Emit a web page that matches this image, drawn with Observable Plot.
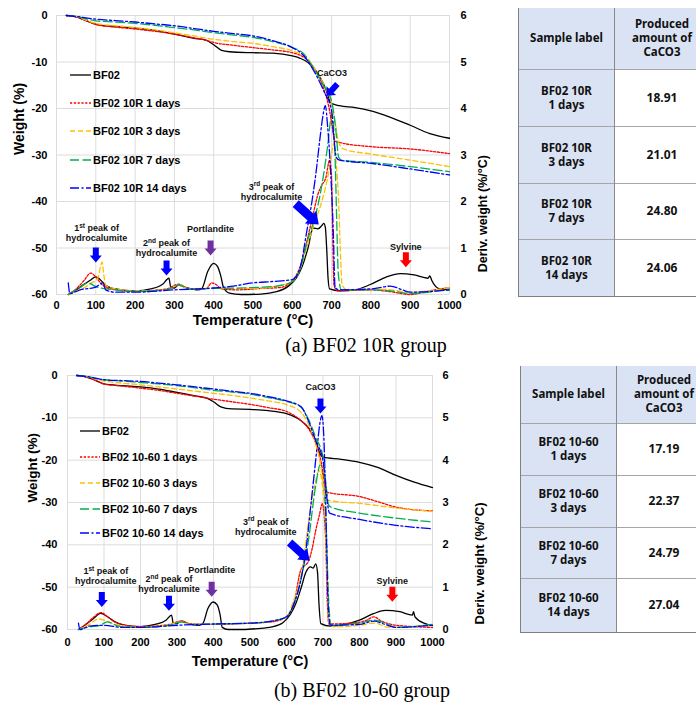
<!DOCTYPE html>
<html><head><meta charset="utf-8">
<script src="https://cdn.jsdelivr.net/npm/d3@7"></script>
<script src="https://cdn.jsdelivr.net/npm/@observablehq/plot@0.6"></script>
<style>
html,body{margin:0;padding:0;width:696px;height:702px;overflow:hidden;background:#fff}
body{position:relative;font-family:"Liberation Sans",Arial,sans-serif}
.abs{position:absolute}
.cap{position:absolute;width:320px;text-align:center;font-family:"Liberation Serif","Times New Roman",serif;font-size:20px;line-height:24px;color:#000;white-space:nowrap}
table.tbl{position:absolute;border-collapse:collapse;table-layout:fixed;width:190px;font-family:"Noto Sans","Liberation Sans",sans-serif;font-weight:bold;font-size:11.5px;line-height:14px;color:#111}
table.tbl td{padding:0;text-align:center;vertical-align:middle;border-top:1px solid #a6a6a6;white-space:nowrap}
table.tbl td.c1{width:95px;background:#dae3f3;border-left:1px solid #7f7f7f;border-right:1px solid #8a8a8a}
table.tbl td.c2{width:94px;background:#fff;font-size:12px}
table.tbl td.hd{background:#dae3f3;border-top:none}
table.tbl tr.last td{border-bottom:1px solid #7f7f7f}
</style></head><body>
<div id="pa" class="abs" style="left:0;top:0"></div>
<div id="pb" class="abs" style="left:0;top:360px"></div>
<div id="ta"></div>
<div id="tb"></div>
<div class="cap" style="left:206px;top:333px">(a) BF02 10R group</div>
<div class="cap" style="left:202px;top:678px">(b) BF02 10-60 group</div>
<script>
// ---------------- DATA ----------------
const xTicks = [0,100,200,300,400,500,600,700,800,900,1000];
const yTicks = [-60,-50,-40,-30,-20,-10,0];

const seriesA = ["BF02","BF02 10R 1 days","BF02 10R 3 days","BF02 10R 7 days","BF02 10R 14 days"];
const seriesB = ["BF02","BF02 10-60 1 days","BF02 10-60 3 days","BF02 10-60 7 days","BF02 10-60 14 days"];

// Panel (a) weight (%) vs temperature
const a_wt_BF02 = [[25,0],[50,-0.3],[75,-1.1],[100,-1.9],[150,-2.4],[200,-2.7],[250,-3.2],[300,-4.0],[350,-4.9],[380,-5.3],[400,-6.3],[420,-7.5],[440,-7.8],[500,-8.0],[550,-8.1],[600,-8.7],[620,-9.2],[640,-10.1],[660,-11.9],[680,-14.8],[690,-16.9],[695,-18.3],[700,-18.9],[720,-19.4],[760,-19.8],[800,-20.5],[850,-21.9],[900,-23.6],[950,-25.4],[1000,-26.4]];
const a_wt_1d = [[25,0],[50,-0.3],[75,-1.1],[100,-1.9],[150,-2.5],[200,-2.9],[250,-3.4],[300,-4.0],[350,-4.8],[380,-5.3],[400,-5.8],[450,-6.4],[500,-6.9],[550,-7.4],[600,-8.0],[640,-9.7],[660,-11.9],[680,-15.8],[695,-20.5],[702,-24.1],[708,-27.0],[720,-27.3],[800,-28.2],[900,-28.7],[1000,-29.7]];
const a_wt_3d = [[25,0],[50,-0.2],[75,-1.0],[100,-1.7],[150,-2.2],[200,-2.6],[250,-3.1],[300,-3.7],[350,-4.4],[400,-5.1],[450,-5.6],[500,-6.0],[550,-6.7],[600,-7.6],[640,-9.4],[660,-11.9],[680,-14.8],[700,-19.1],[710,-23.4],[717,-27.0],[722,-28.0],[730,-28.7],[800,-29.8],[900,-31.1],[1000,-32.5]];
const a_wt_7d = [[25,0],[50,-0.2],[75,-0.7],[100,-1.15],[150,-1.4],[200,-1.7],[250,-2.1],[300,-2.6],[350,-3.1],[400,-3.7],[450,-4.2],[500,-4.7],[550,-5.6],[600,-6.9],[630,-8.3],[650,-10.8],[680,-15.1],[700,-18.4],[710,-24.0],[718,-30.5],[725,-31.1],[800,-31.6],[900,-32.5],[1000,-33.6]];
const a_wt_14d = [[25,0],[50,-0.2],[75,-0.5],[100,-0.8],[150,-1.1],[200,-1.4],[250,-1.8],[300,-2.2],[350,-2.8],[400,-3.4],[450,-3.9],[500,-4.4],[550,-5.4],[600,-6.9],[630,-8.7],[650,-11.2],[680,-16.2],[700,-20.5],[705,-25.5],[712,-30.5],[720,-31.1],[800,-31.8],[900,-33.0],[1000,-34.3]];

// Panel (a) derivative weight (%/°C)
const a_dtg_BF02 = [[30,0],[50,0.1],[70,0.22],[85,0.3],[100,0.38],[110,0.33],[125,0.2],[150,0.12],[200,0.08],[240,0.12],[270,0.22],[286,0.35],[291,0.15],[300,0.14],[310,0.2],[330,0.15],[360,0.1],[370,0.13],[385,0.5],[400,0.67],[410,0.6],[418,0.4],[425,0.15],[440,0.03],[470,0.0],[520,0.01],[560,0.06],[590,0.18],[610,0.35],[625,0.6],[640,1.0],[653,1.43],[665,1.41],[675,1.48],[680,1.53],[684,1.45],[688,0.9],[691,0.35],[695,0.12],[720,0.08],[760,0.1],[800,0.22],[840,0.38],[875,0.45],[910,0.42],[945,0.35],[950,0.4],[955,0.3],[975,0.12],[1000,0.1]];
const a_dtg_1d = [[30,0],[50,0.12],[70,0.3],[87,0.46],[100,0.38],[115,0.22],[140,0.12],[200,0.07],[280,0.12],[310,0.22],[340,0.12],[380,0.12],[395,0.25],[405,0.22],[420,0.12],[460,0.1],[520,0.13],[570,0.15],[600,0.3],[620,0.6],[640,1.25],[655,1.8],[665,2.15],[675,2.35],[685,2.5],[695,2.89],[700,2.5],[703,1.2],[706,0.2],[715,0.08],[800,0.1],[850,0.06],[900,0.0],[950,0.08],[1000,0.15]];
const a_dtg_3d = [[30,0],[60,0.1],[90,0.25],[105,0.35],[112,0.6],[116,0.7],[120,0.45],[125,0.2],[150,0.12],[200,0.08],[280,0.1],[310,0.2],[340,0.12],[400,0.14],[500,0.13],[560,0.18],[600,0.28],[620,0.55],[640,1.1],[655,1.5],[675,2.0],[692,2.6],[700,3.0],[705,3.24],[712,2.8],[718,2.0],[722,1.0],[727,0.2],[740,0.1],[800,0.12],[850,0.1],[900,0.05],[1000,0.15]];
const a_dtg_7d = [[30,0],[60,0.15],[80,0.25],[100,0.17],[150,0.1],[200,0.07],[280,0.1],[310,0.2],[340,0.12],[400,0.13],[500,0.15],[560,0.18],[600,0.28],[620,0.55],[640,1.2],[660,1.73],[680,2.6],[690,3.2],[701,3.88],[709,2.9],[713,1.6],[717,0.45],[725,0.1],[800,0.1],[850,0.08],[900,0.02],[1000,0.12]];
const a_dtg_14d = [[30,0.25],[34,0.02],[60,0.1],[100,0.16],[118,0.25],[125,0.1],[150,0.05],[200,0.05],[300,0.1],[400,0.14],[450,0.18],[500,0.25],[550,0.28],[600,0.32],[620,0.58],[637,1.37],[650,2.0],[660,2.6],[671,3.4],[678,3.85],[684,4.06],[690,3.6],[696,2.87],[704,1.43],[709,0.15],[720,0.1],[800,0.12],[850,0.18],[880,0.1],[900,0.05],[1000,0.1]];

// Panel (b) weight (%)
const b_wt_BF02 = [[25,0],[50,-0.3],[75,-1.1],[100,-2.0],[150,-2.4],[200,-2.7],[250,-3.2],[300,-4.0],[350,-4.8],[380,-5.3],[400,-6.2],[420,-7.4],[450,-7.9],[500,-8.0],[550,-8.3],[600,-9.0],[640,-10.7],[660,-12.3],[680,-15.4],[690,-18.1],[700,-19.3],[750,-19.8],[800,-20.5],[850,-21.7],[900,-23.6],[950,-25.2],[1000,-26.5]];
const b_wt_1d = [[25,0],[50,-0.3],[75,-1.1],[100,-2.0],[150,-2.5],[200,-3.0],[250,-3.5],[300,-4.2],[350,-4.9],[400,-5.6],[450,-6.2],[500,-6.8],[550,-7.6],[600,-8.5],[640,-10.7],[660,-12.5],[680,-16.0],[695,-20.5],[702,-24.0],[707,-26.8],[712,-27.6],[800,-28.6],[850,-29.8],[900,-31.1],[1000,-32.0]];
const b_wt_3d = [[25,0],[50,-0.2],[75,-0.8],[100,-1.3],[150,-1.8],[200,-2.2],[250,-2.7],[300,-3.2],[350,-3.7],[400,-4.2],[450,-4.7],[500,-5.3],[550,-6.0],[600,-6.9],[640,-8.7],[660,-11.5],[680,-16.2],[695,-22.0],[702,-26.5],[708,-29.3],[720,-29.6],[800,-30.2],[900,-31.3],[1000,-32.1]];
const b_wt_7d = [[25,0],[50,-0.2],[75,-0.6],[100,-1.0],[150,-1.3],[200,-1.65],[250,-2.0],[300,-2.4],[350,-2.9],[400,-3.5],[450,-3.9],[500,-4.4],[550,-5.2],[600,-6.1],[640,-7.5],[660,-10.3],[680,-14.6],[700,-19.3],[710,-27.2],[715,-30.5],[722,-31.1],[800,-32.5],[900,-33.7],[1000,-34.6]];
const b_wt_14d = [[25,0],[50,-0.2],[75,-0.6],[100,-1.0],[150,-1.2],[200,-1.4],[250,-1.8],[300,-2.2],[350,-2.7],[400,-3.2],[450,-3.7],[500,-4.2],[550,-5.0],[600,-6.0],[640,-7.4],[660,-10.7],[680,-15.4],[700,-20.1],[707,-25.5],[712,-30.0],[718,-32.5],[800,-34.0],[900,-35.4],[1000,-36.2]];

// Panel (b) derivative weight (%/°C)
const b_dtg_BF02 = [[30,0],[50,0.12],[70,0.25],[91,0.38],[110,0.3],[130,0.18],[160,0.1],[200,0.07],[240,0.12],[270,0.22],[285,0.34],[290,0.14],[300,0.14],[312,0.2],[330,0.14],[360,0.1],[370,0.13],[385,0.5],[399,0.65],[410,0.58],[418,0.35],[424,0.05],[440,0.0],[480,0.0],[520,0.02],[560,0.06],[590,0.16],[610,0.35],[625,0.6],[640,0.98],[653,1.35],[666,1.48],[673,1.45],[680,1.55],[685,1.35],[689,0.61],[694,0.14],[720,0.08],[760,0.12],[800,0.22],[840,0.38],[871,0.45],[910,0.42],[945,0.34],[948,0.42],[952,0.3],[980,0.14],[1000,0.1]];
const b_dtg_1d = [[30,0],[50,0.12],[70,0.28],[92,0.4],[110,0.3],[130,0.18],[160,0.1],[200,0.07],[280,0.12],[310,0.2],[340,0.13],[400,0.12],[500,0.15],[560,0.18],[600,0.3],[620,0.6],[639,1.4],[661,1.63],[670,1.9],[680,2.34],[690,2.7],[698,2.97],[707,2.18],[712,0.6],[716,0.13],[780,0.15],[820,0.22],[839,0.3],[860,0.2],[900,0.1],[1000,0.05]];
const b_dtg_3d = [[30,0],[60,0.12],[85,0.25],[100,0.22],[130,0.12],[200,0.05],[280,0.12],[310,0.18],[340,0.12],[400,0.13],[500,0.15],[560,0.2],[600,0.3],[620,0.7],[639,1.24],[661,2.58],[675,3.3],[689,3.75],[697,3.5],[707,2.4],[712,1.0],[716,0.14],[730,0.06],[800,0.1],[840,0.15],[880,0.05],[1000,0.1]];
const b_dtg_7d = [[30,0],[60,0.06],[90,0.1],[109,0.18],[140,0.08],[200,0.05],[280,0.1],[310,0.18],[340,0.12],[400,0.13],[500,0.15],[560,0.2],[600,0.3],[620,0.6],[640,1.2],[660,2.1],[680,3.4],[693,3.9],[707,2.8],[716,0.6],[722,0.1],[800,0.15],[840,0.22],[870,0.15],[900,0.05],[1000,0.12]];
const b_dtg_14d = [[30,0.15],[34,0.0],[60,0.08],[100,0.1],[150,0.05],[200,0.05],[300,0.1],[400,0.13],[500,0.15],[560,0.2],[600,0.3],[620,0.6],[640,1.2],[655,2.0],[665,2.8],[675,3.6],[685,4.4],[692,4.9],[697,5.05],[702,4.6],[706,3.5],[710,2.0],[714,0.6],[720,0.1],[800,0.12],[840,0.2],[870,0.12],[900,0.05],[1000,0.1]];

// Annotations (temperature, weight-axis value)
const annotA = [
  {T:102, W:-46.8, label:"1^st peak of\nhydrocalumite"},
  {T:280, W:-50.0, label:"2^nd peak of\nhydrocalumite"},
  {T:392, W:-45.9, label:"Portlandite"},
  {T:547, W:-37.9, label:"3^rd peak of\nhydrocalumite"},
  {T:701, W:-12.3, label:"CaCO3"},
  {T:889, W:-49.7, label:"Sylvine"}
];
const arrowsA = [
  {T:100, W:-51.5, kind:"small", color:"blue", rot:0},
  {T:280, W:-54.3, kind:"small", color:"blue", rot:0},
  {T:392, W:-50.0, kind:"small", color:"purple", rot:0},
  {T:638, W:-42.7, kind:"big", color:"blue", rot:-48},
  {T:701, W:-16.0, kind:"mid", color:"blue", rot:42},
  {T:889, W:-52.5, kind:"small", color:"red", rot:0}
];
const annotB = [
  {T:105, W:-47.4, label:"1^st peak of\nhydrocalumite"},
  {T:278, W:-49.3, label:"2^nd peak of\nhydrocalumite"},
  {T:395, W:-46.0, label:"Portlandite"},
  {T:543, W:-35.7, label:"3^rd peak of\nhydrocalumite"},
  {T:693, W:-2.7, label:"CaCO3"},
  {T:890, W:-48.6, label:"Sylvine"}
];
const arrowsB = [
  {T:94, W:-52.9, kind:"small", color:"blue", rot:0},
  {T:278, W:-53.8, kind:"small", color:"blue", rot:0},
  {T:395, W:-50.5, kind:"small", color:"purple", rot:0},
  {T:636, W:-41.6, kind:"bigb", color:"blue", rot:-48},
  {T:693, W:-7.2, kind:"small", color:"blue", rot:0},
  {T:890, W:-51.7, kind:"small", color:"red", rot:0}
];

// Tables
const tableLabelsA = ["BF02 10R\n1 days","BF02 10R\n3 days","BF02 10R\n7 days","BF02 10R\n14 days"];
const caco3A = [18.91, 21.01, 24.80, 24.06];
const tableLabelsB = ["BF02 10-60\n1 days","BF02 10-60\n3 days","BF02 10-60\n7 days","BF02 10-60\n14 days"];
const caco3B = [17.19, 22.37, 24.79, 27.04];

// ---------------- STYLES ----------------
const lineColors = ["#000000","#ff0000","#ffc000","#00b050","#0000ff"];
const lineDashes = [null,"2.2,1.6","5,3","9,3.5","9,2.5,2,2.5"];
const arrowColors = {blue:"#0000ff", purple:"#7030a0", red:"#ff0000"};
const arrowDims = {small:{L:15,w:6,hw:12,hl:7}, mid:{L:16,w:6,hw:13,hl:7}, big:{L:31,w:9,hw:17,hl:11}, bigb:{L:27,w:8,hw:15,hl:10}};

function arrowSymbol(d){
  return {draw(ctx){
    const {L,w,hw,hl} = d;
    ctx.moveTo(-w/2,-L/2); ctx.lineTo(w/2,-L/2); ctx.lineTo(w/2,L/2-hl);
    ctx.lineTo(hw/2,L/2-hl); ctx.lineTo(0,L/2); ctx.lineTo(-hw/2,L/2-hl);
    ctx.lineTo(-w/2,L/2-hl); ctx.closePath();
  }};
}

function panel(cfg){
  const marks = [
    Plot.gridX({ticks:xTicks, stroke:"#dcdcdc", strokeOpacity:1, strokeWidth:1}),
    Plot.gridY({ticks:yTicks, stroke:"#dcdcdc", strokeOpacity:1, strokeWidth:1}),
    Plot.axisX({ticks:xTicks, tickSize:0, tickPadding:cfg.xPad, label:null, tickFormat:v => String(v), fontSize:11, fontWeight:"bold"}),
    Plot.axisY({ticks:yTicks, tickSize:0, tickPadding:cfg.lPad, label:null, tickFormat:v => String(v), fontSize:11, fontWeight:"bold"}),
    Plot.axisY({anchor:"right", ticks:yTicks, tickSize:0, tickPadding:cfg.rPad, label:null, tickFormat:v => String((v+60)/10), fontSize:11, fontWeight:"bold"})
  ];
  cfg.dtg.forEach((s,i)=>{
    marks.push(Plot.line(s, {x:d=>d[0], y:d=>d[1]*10-60, stroke:lineColors[i], strokeWidth:1.3, strokeDasharray:lineDashes[i]||undefined, curve:"monotone-x"}));
  });
  cfg.wt.forEach((s,i)=>{
    marks.push(Plot.line(s, {x:d=>d[0], y:d=>d[1], stroke:lineColors[i], strokeWidth:1.3, strokeDasharray:lineDashes[i]||undefined, curve:"monotone-x"}));
  });
  cfg.arrows.forEach(a=>{
    marks.push(Plot.dot([a], {x:"T", y:"W", symbol:arrowSymbol(arrowDims[a.kind]), r:5, fill:arrowColors[a.color], stroke:"none", rotate:a.rot}));
  });
  marks.push(Plot.text(cfg.annot, {x:"T", y:"W", text:"label", fontSize:9, fontWeight:"bold", lineAnchor:"middle", lineHeight:1.12, fill:"#111"}));
  marks.push(Plot.text(["Weight (%)"], {frameAnchor:"left", dx:cfg.wDx, rotate:-90, fontSize:cfg.titleSize, fontWeight:"bold"}));
  marks.push(Plot.text(["Deriv. weight (%/°C)"], {frameAnchor:"right", dx:cfg.dDx, rotate:-90, fontSize:cfg.dSize, fontWeight:"bold"}));
  marks.push(Plot.text(["Temperature (°C)"], {frameAnchor:"bottom", dy:cfg.tDy, lineAnchor:"middle", fontSize:cfg.tSize, fontWeight:"bold"}));

  const svg = Plot.plot({
    width:cfg.width, height:cfg.height,
    marginLeft:cfg.ml, marginRight:cfg.mr, marginTop:cfg.mt, marginBottom:cfg.mb,
    x:{domain:[0,1000]}, y:{domain:[-60,0]},
    style:{fontFamily:"'Liberation Sans', Arial, sans-serif", fontSize:"11px", fontWeight:"bold", background:"transparent", overflow:"visible", color:"#000"},
    marks
  });

  // superscripts in annotation labels
  d3.select(svg).selectAll("text, tspan").each(function(){
    if (this.childElementCount) return;
    const s = this.textContent;
    const m = s.match(/^(.*?)\^(\w+)(.*)$/);
    if (!m) return;
    const el = d3.select(this);
    el.text(null);
    this.appendChild(document.createTextNode(m[1]));
    el.append("tspan").attr("dy","-3.5").attr("font-size","6.5px").text(m[2]);
    el.append("tspan").attr("dy","3.5").text(m[3]);
  });

  // legend
  const lg = d3.select(svg).append("g").attr("font-size","11px").attr("font-weight","bold").attr("text-anchor","start");
  cfg.names.forEach((n,i)=>{
    const y = cfg.legY[i];
    lg.append("line").attr("x1",cfg.legX1).attr("x2",cfg.legX2).attr("y1",y).attr("y2",y)
      .attr("stroke",lineColors[i]).attr("stroke-width",1.3).attr("stroke-dasharray",lineDashes[i]);
    lg.append("text").attr("x",cfg.legX2+2).attr("y",y).attr("dy","0.35em").attr("text-anchor","start").text(n);
  });
  return svg;
}

document.getElementById("pa").appendChild(panel({
  width:510, height:340, ml:56, mr:61, mt:15, mb:46, xPad:7, lPad:9, rPad:11,
  wDx:-37, dDx:33, tDy:26, titleSize:14, dSize:12.5, tSize:15,
  wt:[a_wt_BF02,a_wt_1d,a_wt_3d,a_wt_7d,a_wt_14d],
  dtg:[a_dtg_BF02,a_dtg_1d,a_dtg_3d,a_dtg_7d,a_dtg_14d],
  annot:annotA, arrows:arrowsA, names:seriesA,
  legX1:70, legX2:91, legY:[75,103,131,160,188]
}));
document.getElementById("pb").appendChild(panel({
  width:500, height:320, ml:67, mr:68, mt:15, mb:51, xPad:9, lPad:10, rPad:10,
  wDx:-35, dDx:47, tDy:32, titleSize:13.5, dSize:13, tSize:14.5,
  wt:[b_wt_BF02,b_wt_1d,b_wt_3d,b_wt_7d,b_wt_14d],
  dtg:[b_dtg_BF02,b_dtg_1d,b_dtg_3d,b_dtg_7d,b_dtg_14d],
  annot:annotB, arrows:arrowsB, names:seriesB,
  legX1:80, legX2:100, legY:[71,97,123,149,173]
}));

function makeTable(sel, left, top, labels, values, headH, rowH){
  const t = d3.select(sel).append("table").attr("class","tbl").style("left",left+"px").style("top",top+"px");
  const hr = t.append("tr").style("height",headH+"px");
  hr.append("td").attr("class","c1 hd").text("Sample label");
  hr.append("td").attr("class","c2 hd").style("font-size","11.5px").html("Produced<br>amount of<br>CaCO3");
  labels.forEach((l,i)=>{
    const r = t.append("tr").style("height",rowH[i]+"px").classed("last", i===labels.length-1);
    const c = r.append("td").attr("class","c1");
    l.split("\n").forEach((p,j)=>{ if(j) c.append("br"); c.append("span").text(p); });
    r.append("td").attr("class","c2").text(values[i].toFixed(2));
  });
}
makeTable("#ta", 518, 8, tableLabelsA, caco3A, 61, [57,57,56,57]);
makeTable("#tb", 520, 366, tableLabelsB, caco3B, 57, [52,52,51,54]);
</script>
</body></html>
